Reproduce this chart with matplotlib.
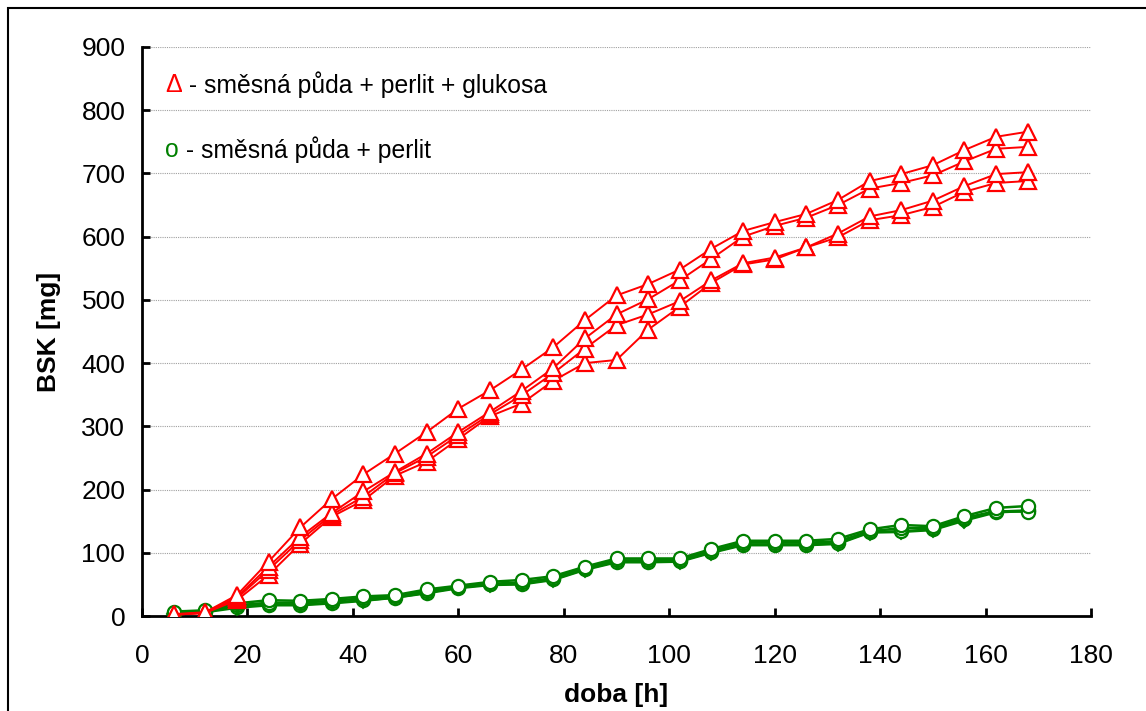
import matplotlib.pyplot as plt
import matplotlib.patches as patches
import numpy as np

plt.rcParams['font.family'] = ['Liberation Sans', 'DejaVu Sans']

# doba [h]
doba = np.arange(6, 169, 6)

# BSK [mg] - smesna puda + perlit + glukosa
red_a = [3, 6, 33, 86, 140, 185, 224, 257, 291, 328, 357, 390, 425, 468, 507, 525, 548, 581, 609, 623, 636, 658, 688, 699, 713, 737, 758, 766]
red_b = [2, 5, 30, 78, 125, 163, 197, 228, 257, 291, 323, 356, 392, 439, 477, 501, 531, 565, 600, 617, 630, 650, 676, 685, 697, 719, 739, 742]
red_c = [2, 5, 28, 73, 120, 160, 189, 226, 252, 286, 319, 349, 384, 423, 460, 477, 498, 531, 558, 567, 583, 605, 632, 642, 657, 680, 699, 702]
red_d = [2, 5, 25, 65, 114, 157, 183, 222, 244, 280, 316, 336, 372, 400, 405, 453, 489, 527, 556, 564, 583, 599, 626, 634, 647, 671, 685, 688]

# BSK [mg] - smesna puda + perlit
green_a = [7, 9, 20, 25, 24, 27, 31, 33, 42, 48, 54, 57, 63, 78, 91, 91, 91, 106, 119, 119, 119, 122, 137, 144, 142, 158, 171, 174]
green_b = [5, 8, 17, 21, 21, 24, 28, 31, 39, 46, 51, 53, 60, 76, 88, 88, 89, 103, 116, 116, 116, 118, 134, 139, 139, 155, 166, 165]
green_c = [4, 7, 15, 18, 18, 21, 25, 29, 37, 45, 50, 51, 58, 74, 86, 86, 87, 101, 113, 113, 113, 115, 133, 134, 137, 153, 165, 167]
green_d = [3, 6, 13, 17, 17, 20, 24, 29, 36, 44, 49, 50, 57, 73, 85, 85, 86, 100, 112, 112, 112, 114, 132, 133, 136, 151, 164, 166]

RED = '#ff0000'
GREEN = '#008000'

fig = plt.figure(figsize=(11.46, 7.11), dpi=100)
fig.patch.set_facecolor('white')
ax = fig.add_axes([142/1146, 1 - 616/711, (1091-142)/1146, (616-47)/711])

# outer chart frame
fig.patches.append(patches.Rectangle((8/1146, -0.05), 1.1, 1 - 8/711 + 0.05,
                                     transform=fig.transFigure, fill=False,
                                     edgecolor='black', linewidth=1.5))

for s in [green_d]:
    ax.plot(doba, s, color=GREEN, lw=1.8, marker='D', ms=7, mfc='white',
            mec=GREEN, mew=1.4, zorder=3)
for s in [green_c, green_b, green_a]:
    ax.plot(doba, s, color=GREEN, lw=1.8, marker='o', ms=9.5, mfc='white',
            mec=GREEN, mew=1.6, zorder=3)

for s in [red_d, red_c, red_b, red_a]:
    ax.plot(doba, s, color=RED, lw=1.4, marker='^', ms=11, mfc='white',
            mec=RED, mew=1.6, zorder=4)

ax.set_xlim(0, 180)
ax.set_ylim(0, 900)
ax.set_xticks(np.arange(0, 181, 20))
ax.set_yticks(np.arange(0, 901, 100))
ax.yaxis.grid(True, color='#a0a0a0', linestyle=(0, (1, 1)), linewidth=0.8)
ax.set_axisbelow(True)
for sp in ['top', 'right']:
    ax.spines[sp].set_visible(False)
for sp in ['left', 'bottom']:
    ax.spines[sp].set_linewidth(2)
ax.tick_params(direction='in', length=6, width=2, labelsize=19)
ax.tick_params(axis='x', pad=20)
ax.tick_params(axis='y', pad=12)

ax.set_xlabel('doba [h]', fontsize=19, fontweight='bold')
ax.set_ylabel('BSK [mg]', fontsize=19, fontweight='bold')
ax.xaxis.set_label_coords(0.5, -0.117)
ax.yaxis.set_label_coords(-0.085, 0.5)

t1 = ax.text(0.024, 0.933, 'Δ', color=RED, fontsize=18, va='center',
             transform=ax.transAxes)
ax.annotate(' - směsná půda + perlit + glukosa', xy=(1, 0.5), xycoords=t1,
            fontsize=17.8, color='black', va='center')
t2 = ax.text(0.024, 0.819, 'o', color=GREEN, fontsize=17.8, va='center',
             transform=ax.transAxes)
ax.annotate(' - směsná půda + perlit', xy=(1, 0.5), xycoords=t2,
            fontsize=17.8, color='black', va='center')

fig.savefig('out.png', dpi=100, facecolor='white')
